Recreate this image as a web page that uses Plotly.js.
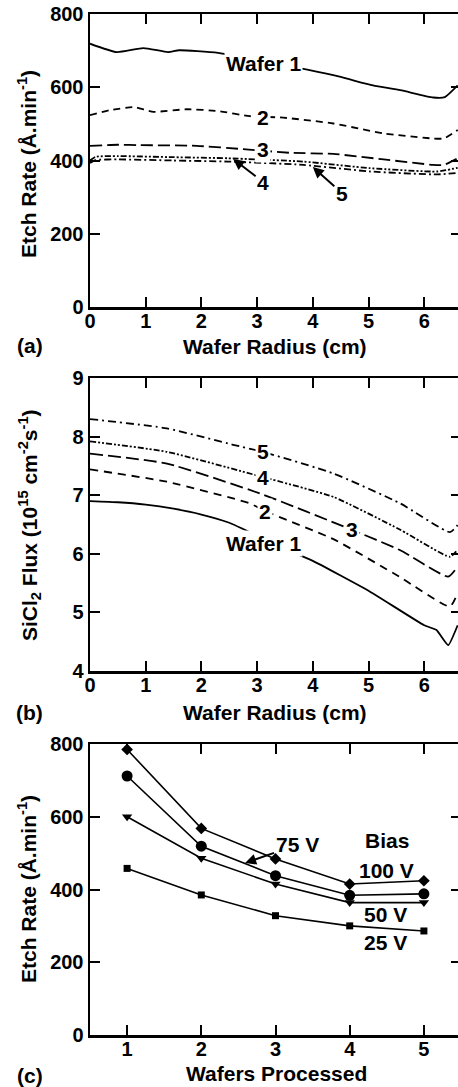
<!DOCTYPE html>
<html><head><meta charset="utf-8">
<script src="https://cdn.plot.ly/plotly-3.0.1.min.js"></script>
<style>html,body{margin:0;padding:0;overflow:hidden;background:#fff}#chart{width:470px;height:1087px}</style>
</head><body><div id="chart"></div><script>
// ---- Panel (a): etch rate vs wafer radius ----
const radA1 = [0, 0.48, 0.96, 1.4, 1.6, 2.3, 3.9, 4.5, 5.08, 5.57, 6.16, 6.37, 6.6];
const rateA1 = [719, 696, 707, 696, 701, 694, 648, 628, 605, 592, 572, 573, 605];
const radA2 = [0, 0.35, 0.78, 1.14, 1.74, 2.3, 2.87, 3.47, 4.37, 5.27, 6.16, 6.35, 6.6];
const rateA2 = [524, 537, 546, 533, 540, 535, 521, 517, 501, 474, 460, 460, 483];
const radA3 = [0, 0.5, 0.9, 1.92, 2.75, 3.59, 4.37, 5.27, 6.16, 6.35, 6.6];
const rateA3 = [440, 443, 442, 440, 431, 421, 418, 403, 388, 388, 406];
const radA4 = [0, 0.1, 0.5, 1.5, 2.48, 3.83, 5.03, 6.23, 6.6];
const rateA4 = [400, 410, 412, 409, 406, 397, 379, 370, 380];
const radA5 = [0, 0.1, 0.5, 1.5, 2.48, 3.83, 5.03, 6.23, 6.6];
const rateA5 = [393, 401, 403, 400, 397, 388, 370, 362, 366];

// ---- Panel (b): SiCl2 flux vs wafer radius ----
const radB1 = [0, 0.5, 1.0, 1.5, 2.0, 2.5, 3.6, 4.0, 5.0, 6.0, 6.22, 6.43, 6.6];
const fluxB1 = [6.90, 6.88, 6.84, 6.77, 6.67, 6.53, 6.04, 5.88, 5.37, 4.78, 4.70, 4.44, 4.78];
const radB2 = [0, 1.38, 2.87, 3.14, 4.37, 5.57, 6.46, 6.6];
const fluxB2 = [7.44, 7.23, 6.86, 6.73, 6.25, 5.60, 5.10, 5.33];
const radB3 = [0, 1.38, 3.05, 4.7, 5.57, 6.43, 6.6];
const fluxB3 = [7.71, 7.54, 7.03, 6.41, 6.06, 5.61, 5.78];
const radB4 = [0, 1.38, 3.1, 4.37, 5.57, 6.46, 6.6];
const fluxB4 = [7.92, 7.74, 7.31, 6.97, 6.41, 5.95, 6.07];
const radB5 = [0, 1.38, 2.57, 3.1, 4.37, 5.57, 6.46, 6.6];
const fluxB5 = [8.30, 8.14, 7.86, 7.74, 7.37, 6.86, 6.37, 6.49];

// ---- Panel (c): etch rate vs wafers processed ----
const wafers = [1, 2, 3, 4, 5];
const rate100V = [785, 568, 484, 415, 424];
const rate75V = [712, 519, 438, 384, 388];
const rate50V = [600, 486, 415, 364, 364];
const rate25V = [458, 385, 328, 300, 286];

// ---- tick values ----
const radiusTicks = [0, 1, 2, 3, 4, 5, 6];
const rateTicks = [0, 200, 400, 600, 800];
const fluxTicks = [4, 5, 6, 7, 8, 9];
const waferTicks = [1, 2, 3, 4, 5];

const F = 'Liberation Sans, Arial, sans-serif';
const K = '#000';
const bold = v => v.map(t => '<b>' + t + '</b>');

function line(x, y, xa, ya, dash, smooth) {
  const ln = {color: K, width: 1.8, dash: dash};
  if (smooth) { ln.shape = 'spline'; ln.smoothing = smooth; }
  return {x: x, y: y, xaxis: xa, yaxis: ya, mode: 'lines', type: 'scatter',
    line: ln, hoverinfo: 'skip', showlegend: false};
}
function mk(x, y, sym, size) {
  return {x: x, y: y, xaxis: 'x3', yaxis: 'y3', mode: 'lines+markers', type: 'scatter',
    line: {color: K, width: 1.6}, marker: {symbol: sym, size: size, color: K},
    hoverinfo: 'skip', showlegend: false};
}

const data = [
  line(radA1, rateA1, 'x', 'y', 'solid', 0.5),
  line(radA2, rateA2, 'x', 'y', '7px,5px', 0.5),
  line(radA3, rateA3, 'x', 'y', '12px,5px', 0.5),
  line(radA4, rateA4, 'x', 'y', '6px,2px,2px,2px,2px,2px', 0.5),
  line(radA5, rateA5, 'x', 'y', '7px,3px,2px,3px', 0.5),
  line(radB1, fluxB1, 'x2', 'y2', 'solid', 0.4),
  line(radB2, fluxB2, 'x2', 'y2', '8px,6px', 0.5),
  line(radB3, fluxB3, 'x2', 'y2', '13px,5px', 0.5),
  line(radB4, fluxB4, 'x2', 'y2', '6px,2px,2px,2px,2px,2px', 0.5),
  line(radB5, fluxB5, 'x2', 'y2', '8px,4px,2px,4px', 0.5),
  mk(wafers, rate100V, 'diamond', 9),
  mk(wafers, rate75V, 'circle', 11),
  mk(wafers, rate50V, 'triangle-down', 9),
  mk(wafers, rate25V, 'square', 7)
];

const W = 470, H = 1087;
const xd = [90 / W, 461 / W];
function dom(top, bot) { return [1 - bot / H, 1 - top / H]; }

function ax(extra) {
  return Object.assign({showline: true, linewidth: 2.5, linecolor: K, mirror: 'ticks',
    ticks: 'inside', ticklen: 10, tickwidth: 2, tickcolor: K, showgrid: false,
    zeroline: false, fixedrange: true, tickmode: 'array',
    tickfont: {family: F, size: 20, color: K, weight: 700}}, extra);
}

const tf = {family: F, size: 21, color: K, weight: 700};
function lab(text, x, y, xr, yr, bg) {
  return {text: text, x: x, y: y, xref: xr, yref: yr, showarrow: false, font: tf,
    bgcolor: bg ? '#fff' : 'rgba(0,0,0,0)', borderpad: 1};
}
function arr(text, x, y, xr, yr, dx, dy) {
  return {text: text, x: x, y: y, xref: xr, yref: yr, showarrow: true, arrowhead: 2,
    arrowsize: 1.1, arrowwidth: 2, arrowcolor: K, ax: dx, ay: dy, font: tf, standoff: 0};
}
function pl(text, px, py, rot) {
  const a = {text: text, x: px / W, y: 1 - py / H, xref: 'paper', yref: 'paper',
    showarrow: false, font: tf, xanchor: 'center', yanchor: 'middle'};
  if (rot) a.textangle = -90;
  return a;
}

const annotations = [
  // panel (a)
  lab('Wafer 1', 3.11, 665, 'x', 'y', true),
  lab('2', 3.11, 518, 'x', 'y', true),
  lab('3', 3.11, 429, 'x', 'y', true),
  arr('4', 2.57, 404, 'x', 'y', 30, 23),
  arr('5', 4.0, 382, 'x', 'y', 29, 26),
  // panel (b)
  lab('5', 3.11, 7.74, 'x2', 'y2', true),
  lab('4', 3.11, 7.31, 'x2', 'y2', true),
  lab('2', 3.14, 6.73, 'x2', 'y2', true),
  lab('3', 4.70, 6.41, 'x2', 'y2', true),
  lab('Wafer 1', 3.11, 6.18, 'x2', 'y2', true),
  // panel (c)
  arr('75 V', 2.59, 473, 'x3', 'y3', 52, -18),
  lab('Bias', 4.50, 536, 'x3', 'y3', false),
  lab('100 V', 4.50, 453, 'x3', 'y3', false),
  lab('50 V', 4.48, 330, 'x3', 'y3', false),
  lab('25 V', 4.48, 253, 'x3', 'y3', false),
  // axis titles and panel tags
  pl('Wafer Radius (cm)', 275, 346),
  pl('Wafer Radius (cm)', 275, 712),
  pl('Wafers Processed', 276, 1073),
  pl('Etch Rate (Å.min<sup>-1</sup>)', 27, 164, true),
  pl('SiCl<sub>2</sub> Flux (10<sup>15</sup> cm<sup>-2</sup>s<sup>-1</sup>)', 30, 525, true),
  pl('Etch Rate (Å.min<sup>-1</sup>)', 27, 889, true),
  pl('(a)', 30, 345),
  pl('(b)', 30, 712),
  pl('(c)', 30, 1075)
];

const xt = {ticklabelstandoff: -6};
const layout = {
  width: W, height: H, margin: {l: 0, r: 0, t: 0, b: 0},
  paper_bgcolor: '#fff', plot_bgcolor: '#fff', showlegend: false,
  font: {family: F, color: K},
  xaxis: ax(Object.assign({domain: xd, anchor: 'y', range: [0, 6.66], tickvals: radiusTicks, ticktext: bold(radiusTicks)}, xt)),
  yaxis: ax({domain: dom(14, 307), anchor: 'x', range: [0, 800], tickvals: rateTicks, ticktext: bold(rateTicks)}),
  xaxis2: ax(Object.assign({domain: xd, anchor: 'y2', range: [0, 6.66], tickvals: radiusTicks, ticktext: bold(radiusTicks)}, xt)),
  yaxis2: ax({domain: dom(378, 671), anchor: 'x2', range: [4, 9], tickvals: fluxTicks, ticktext: bold(fluxTicks)}),
  xaxis3: ax(Object.assign({domain: xd, anchor: 'y3', range: [0.5, 5.5], tickvals: waferTicks, ticktext: bold(waferTicks)}, xt)),
  yaxis3: ax({domain: dom(744, 1035), anchor: 'x3', range: [0, 800], tickvals: rateTicks, ticktext: bold(rateTicks)}),
  annotations: annotations
};

Plotly.newPlot('chart', data, layout, {staticPlot: true, displayModeBar: false});
</script></body></html>
